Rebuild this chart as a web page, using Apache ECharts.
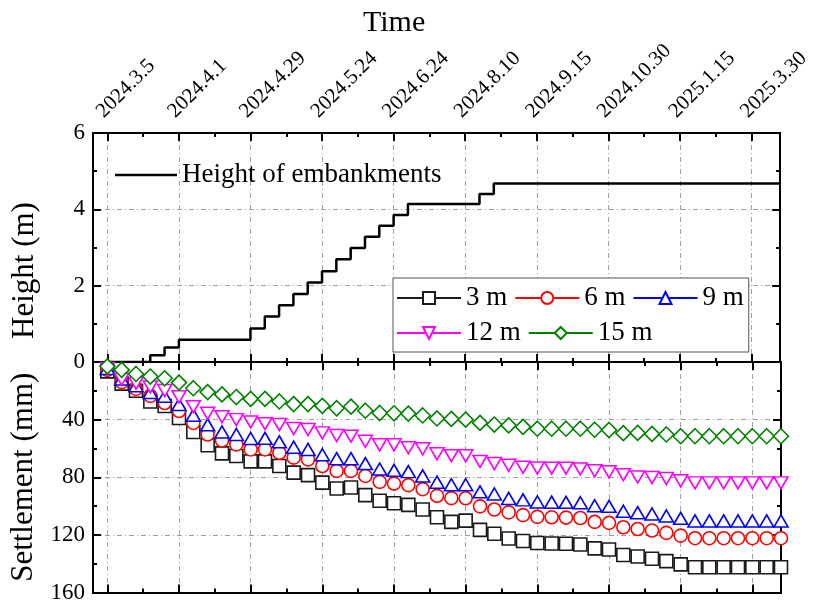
<!DOCTYPE html>
<html><head><meta charset="utf-8">
<script src="https://cdn.jsdelivr.net/npm/echarts@6/dist/echarts.min.js"></script>
<style>html,body{margin:0;padding:0;background:#fff}#c{width:813px;height:604px}</style>
</head><body><div id="c"></div>
<script>
// ---- data ----
const dateLabels = ['2024.3.5','2024.4.1','2024.4.29','2024.5.24','2024.6.24','2024.8.10','2024.9.15','2024.10.30','2025.1.15','2025.3.30'];
const samplesPerLabel = 5;
const heightIdx = [0,3,4,5,10,11,12,13,14,15,16,17,18,19,20,21,26,27,47];
const heightVal = [0,0.18,0.38,0.58,0.88,1.19,1.49,1.78,2.08,2.38,2.69,2.99,3.28,3.57,3.85,4.14,4.40,4.68,4.68];
const seriesNames = ['3 m','6 m','9 m','12 m','15 m'];
const s3 = [6.5,15,20,27.4,30.5,38.9,48.6,57.8,63.4,65.3,69,69,72.2,76.8,78.5,83.7,87.8,87.1,92.4,96.3,98,99.2,102.4,107.8,111,110.1,116.5,119.2,122.5,124.2,125.6,126,126.2,126.7,129.4,130.2,134,135,136.6,138.2,140.5,142.5,142.5,142.5,142.5,142.5,142.5,142.5];
const s6 = [5.5,14,18.7,23.5,28.5,34,42.3,50.3,54.5,57.2,60.7,60.7,63,66.4,67.6,72.2,75.6,75.6,79.1,83.2,84.4,85.5,88.3,92.9,94.5,94.6,100.2,102.4,104.4,106.3,107.5,107.8,108,108.3,111,111.7,114.7,115.9,117,118.6,120.5,122.3,122.3,122.3,122.3,122.3,122.3,122.3];
const s9 = [4.5,11.8,16.5,21.2,23.8,29.5,36.9,43.6,48.6,50.3,53.1,53,55.4,59.1,60.7,64.4,67.1,67.1,70.5,74.3,75.2,76.1,79.1,83.4,85.2,85.2,90.1,91.6,94.7,95.7,97.2,97.3,97.4,97.7,99.8,100.2,103.6,104.6,105.5,106.9,108.5,110.3,110.3,110.3,110.3,110.3,110.3,110.3];
const s12 = [4.5,12,14.7,17.3,19.8,24.2,31,35.6,38,40,41.6,42.8,43.4,46.2,46.9,49.2,51,51.5,55,57.5,57.5,59.5,60.2,63.7,65,65.1,69,70.5,71.7,73.1,73.6,73.7,73.7,74.2,75.5,76.2,78.2,79.8,80.2,80.9,82.5,83.9,83.9,83.9,83.9,83.9,83.9,83.9];
const s15 = [3,5.5,8.3,10.1,11.3,14.3,18.2,20.9,22.5,24.3,25.6,25.6,27.4,29.2,29.2,30.5,32.1,31,33.8,35.4,35.6,35.8,37.1,39.2,39.5,40,42.3,43.4,44,45,46.3,46.3,46.3,46.3,47,47.2,49.4,49.2,49.9,50.3,51.5,51.5,51.5,51.5,51.5,51.5,51.5,51.5];

// ---- chart ----
const FONT = '"Liberation Serif","Times New Roman",serif';
const X_MIN = -1, X_MAX = 47;
const majorIdx = dateLabels.map((_, k) => k * samplesPerLabel);
const minorIdx = majorIdx.map(v => v + samplesPerLabel / 2).filter(v => v < X_MAX);
const gridLine = {show: true, lineStyle: {color: '#a0a0a0', width: 1, type: [5, 3, 1, 3]}};
const black = {color: '#000', width: 2};

function xAx(gridIndex, position, custom, len, extra) {
  return Object.assign({
    type: 'value', gridIndex, position, min: X_MIN, max: X_MAX,
    axisLine: {show: true, onZero: false, lineStyle: black},
    axisTick: {show: true, inside: true, length: len, customValues: custom, lineStyle: black},
    axisLabel: {show: false},
    splitLine: {show: false}
  }, extra || {});
}
function yAx(gridIndex, position, min, max, interval, extra) {
  return Object.assign({
    type: 'value', gridIndex, position, min, max, interval,
    axisLine: {show: true, onZero: false, lineStyle: black},
    axisTick: {show: true, inside: true, length: 8, lineStyle: black},
    minorTick: {show: true, splitNumber: 2, length: 4, lineStyle: black},
    axisLabel: {show: false},
    splitLine: {show: false}
  }, extra || {});
}
const yLabel = {show: true, fontFamily: FONT, fontSize: 23, color: '#000', margin: 8};
const yName = {fontFamily: FONT, fontSize: 31, color: '#000'};

const xAxis = [
  xAx(0, 'bottom', majorIdx, 8, {splitLine: gridLine}),
  xAx(0, 'bottom', minorIdx, 4),
  xAx(0, 'top', majorIdx, 8, {axisLabel: {show: true, customValues: majorIdx, rotate: -45, margin: 11,
      verticalAlign: 'bottom',
      fontFamily: FONT, fontSize: 21, color: '#000',
      formatter: v => dateLabels[majorIdx.indexOf(v)] || ''}}),
  xAx(0, 'top', minorIdx, 4),
  xAx(1, 'bottom', majorIdx, 8, {splitLine: gridLine}),
  xAx(1, 'bottom', minorIdx, 4),
  xAx(1, 'top', majorIdx, 8),
  xAx(1, 'top', minorIdx, 4)
];
const yAxis = [
  yAx(0, 'left', 0, 6, 2, {axisLabel: yLabel, splitLine: gridLine, name: 'Height (m)', nameLocation: 'middle', nameGap: 53,
      nameTextStyle: Object.assign({padding: [0, 46, 0, 0]}, yName)}),
  yAx(0, 'right', 0, 6, 2),
  yAx(1, 'left', 0, 160, 40, {inverse: true, axisLabel: Object.assign({showMinLabel: false}, yLabel), splitLine: gridLine,
      name: 'Settlement (mm)', nameLocation: 'middle', nameGap: 53, nameTextStyle: yName}),
  yAx(1, 'right', 0, 160, 40, {inverse: true})
];

function sSeries(name, data, color, symbol, size) {
  return {
    type: 'line', name, xAxisIndex: 4, yAxisIndex: 2,
    data: data.map((v, i) => [i, v]),
    symbol, symbolSize: size, showAllSymbol: true,
    lineStyle: {color, width: 2, opacity: 0},
    itemStyle: {color: '#fff', borderColor: color, borderWidth: 1.6},
    emphasis: {disabled: true}
  };
}

const series = [
  {type: 'line', name: 'Height of embankments', xAxisIndex: 0, yAxisIndex: 0, step: 'end',
   data: heightIdx.map((x, k) => [x, heightVal[k]]), symbol: 'none',
   lineStyle: {color: '#000', width: 2.5}, itemStyle: {color: '#000'}, emphasis: {disabled: true}},
  sSeries(seriesNames[0], s3, '#1a1a1a', 'rect', 13),
  sSeries(seriesNames[1], s6, '#ff0000', 'circle', 13),
  sSeries(seriesNames[2], s9, '#0000ff', 'triangle', [14, 12]),
  sSeries(seriesNames[3], s12, '#ff00ff', 'path://M0,0L2,0L1,1.7Z', [14, 12]),
  sSeries(seriesNames[4], s15, '#008000', 'diamond', 15)
];

const chart = echarts.init(document.getElementById('c'), null, {renderer: 'canvas'});
chart.setOption({
  animation: false,
  backgroundColor: '#fff',
  title: {text: 'Time', left: 358, top: 3, textStyle: {fontFamily: FONT, fontSize: 30, fontWeight: 'normal', color: '#000'}},
  grid: [
    {left: 93, top: 133, width: 688, height: 229},
    {left: 93, top: 362, width: 688, height: 232}
  ],
  legend: [
    {data: [{name: 'Height of embankments', icon: 'rect'}], left: 115, top: 161, padding: 0,
     itemWidth: 62, itemHeight: 2.5, selectedMode: false,
     textStyle: {fontFamily: FONT, fontSize: 27, color: '#000', lineHeight: 28}},
    {data: seriesNames, left: 393, top: 278, width: 400, padding: [6, 5, 5, 3],
     itemWidth: 64, itemHeight: 15, itemGap: 7, selectedMode: false,
     lineStyle: {width: 2, opacity: 1},
     backgroundColor: '#fff', borderColor: '#555', borderWidth: 1,
     textStyle: {fontFamily: FONT, fontSize: 27, color: '#000', lineHeight: 28}}
  ],
  xAxis, yAxis, series
});
</script></body></html>
